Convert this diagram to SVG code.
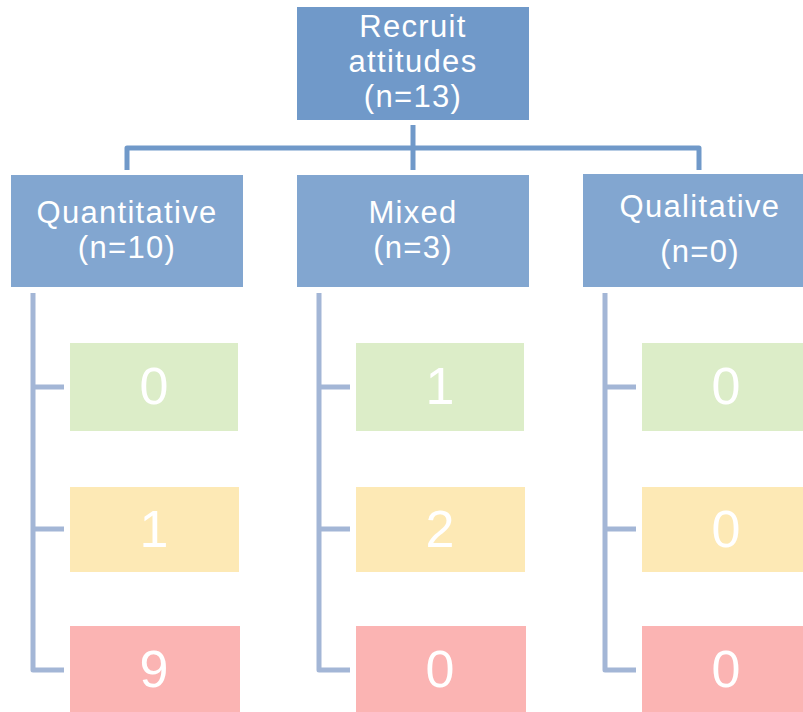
<svg xmlns="http://www.w3.org/2000/svg" width="803" height="712" viewBox="0 0 803 712">
<style>
.top{fill:#7099c9}
.mid{fill:#82a6d0}
.g{fill:#dcedc8}
.y{fill:#fde9b5}
.r{fill:#fbb4b3}
.t{font-family:"Liberation Sans",Arial,sans-serif;fill:#ffffff;text-anchor:middle}
.h{font-size:31px;letter-spacing:1.3px}
.n{font-size:52px}
.c1{fill:none;stroke:#7099c9;stroke-width:5;stroke-linejoin:round}
.c2{fill:none;stroke:#a3b6d6;stroke-width:5;stroke-linejoin:round}
</style>
<rect width="803" height="712" fill="#ffffff"/>
<g id="connectors">
<path class="c1" d="M413 125 V170"/>
<path class="c1" d="M127 170 V148 H699 V170"/>
<path class="c2" d="M33 293 V670 H64 M33 387 H64 M33 529 H64"/>
<path class="c2" d="M319 293 V670 H350 M319 387 H350 M319 529 H350"/>
<path class="c2" d="M605 293 V670 H636 M605 387 H636 M605 529 H636"/>
</g>
<g id="root">
<rect class="top" x="297" y="7" width="232" height="113"/>
<text class="t h" x="413" y="37">Recruit</text>
<text class="t h" x="413" y="72">attitudes</text>
<text class="t h" x="413" y="107">(n=13)</text>
</g>
<g id="quantitative">
<rect class="mid" x="11" y="175" width="232" height="112"/>
<text class="t h" x="127" y="223">Quantitative</text>
<text class="t h" x="127" y="258">(n=10)</text>
</g>
<g id="mixed">
<rect class="mid" x="297" y="175" width="232" height="112"/>
<text class="t h" x="413" y="223">Mixed</text>
<text class="t h" x="413" y="258">(n=3)</text>
</g>
<g id="qualitative">
<rect class="mid" x="583" y="174" width="232" height="113"/>
<text class="t h" x="700" y="217">Qualitative</text>
<text class="t h" x="700" y="262">(n=0)</text>
</g>
<g id="quant-green"><rect class="g" x="70" y="343" width="168" height="88"/><text class="t n" x="154" y="404">0</text></g>
<g id="quant-yellow"><rect class="y" x="70" y="487" width="169" height="85"/><text class="t n" x="154" y="547">1</text></g>
<g id="quant-red"><rect class="r" x="70" y="626" width="170" height="90"/><text class="t n" x="154" y="687">9</text></g>
<g id="mixed-green"><rect class="g" x="356" y="343" width="168" height="88"/><text class="t n" x="440" y="404">1</text></g>
<g id="mixed-yellow"><rect class="y" x="356" y="487" width="169" height="85"/><text class="t n" x="440" y="547">2</text></g>
<g id="mixed-red"><rect class="r" x="356" y="626" width="170" height="90"/><text class="t n" x="440" y="687">0</text></g>
<g id="qual-green"><rect class="g" x="642" y="343" width="170" height="88"/><text class="t n" x="726" y="404">0</text></g>
<g id="qual-yellow"><rect class="y" x="642" y="487" width="170" height="85"/><text class="t n" x="726" y="547">0</text></g>
<g id="qual-red"><rect class="r" x="642" y="626" width="170" height="90"/><text class="t n" x="726" y="687">0</text></g>
</svg>
